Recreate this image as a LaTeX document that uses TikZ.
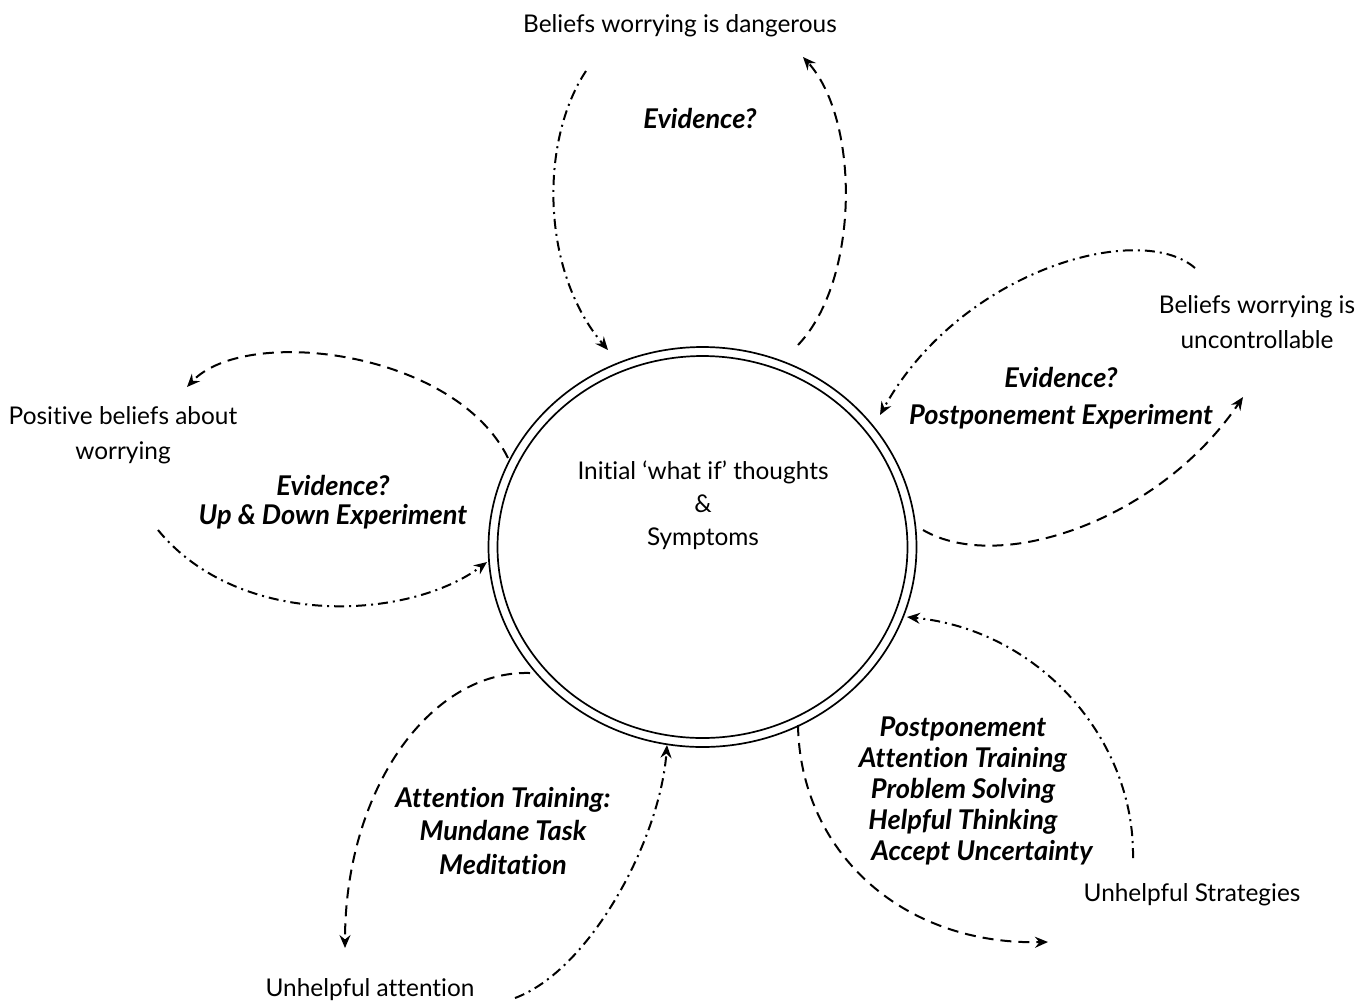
\documentclass[tikz,border=0pt]{standalone}
\usepackage{fontspec}
\setmainfont[Ligatures=NoCommon]{Lato}
\usetikzlibrary{arrows.meta,shapes.geometric}
\begin{document}
\begin{tikzpicture}[x=0.5pt,y=-0.5pt,
  tip/.style={-{Stealth[length=6.5pt,width=5.5pt,inset=2.2pt]}},
  dsh/.style={tip,line width=1pt,dash pattern=on 5.5pt off 3.5pt},
  dd/.style={tip,line width=1pt,dash pattern=on 5pt off 2.5pt on 1pt off 2.5pt},
  lbl/.style={font=\fontsize{12.2}{17.5}\selectfont,align=center,inner sep=0pt},
  tech/.style={font=\fontsize{13.6}{18}\selectfont\bfseries\itshape,align=center,inner sep=0pt},
  ring/.style={draw,ellipse,line width=0.85pt,inner sep=0pt}]
\useasboundingbox (0,0) rectangle (1371,1003);

% central double ellipse
\node[ring,minimum width=214pt,minimum height=200pt] (core) at (702.5,547) {};
\node[ring,minimum width=205pt,minimum height=191pt] (coreinner) at (702.5,547) {};
\node[lbl,font=\fontsize{12.2}{16.5}\selectfont] (coretext) at (703,505) {Initial ‘what if’ thoughts\\\&\\Symptoms};

% outer labels
\node[lbl] (danger) at (680,26) {Beliefs worrying is dangerous};
\node[lbl] (uncontrol) at (1257,322) {Beliefs worrying is\\uncontrollable};
\node[lbl] (positive) at (123,435) {Positive beliefs about\\worrying};
\node[lbl] (attention) at (370,990) {Unhelpful attention};
\node[lbl] (strategies) at (1192,895) {Unhelpful Strategies};

% technique labels
\node[tech] (evtop) at (700,118) {Evidence?};
\node[tech,font=\fontsize{13.6}{18.5}\selectfont\bfseries\itshape] (evright) at (1061,398) {Evidence?\\Postponement Experiment};
\node[tech,font=\fontsize{13.6}{14.5}\selectfont\bfseries\itshape] (evleft) at (333,502) {Evidence?\\Up \& Down Experiment};
\node[tech,font=\fontsize{13.6}{16.75}\selectfont\bfseries\itshape] (attlabel) at (503,831) {Attention Training:\\Mundane Task\\Meditation};
\node[tech,font=\fontsize{13.6}{15.4}\selectfont\bfseries\itshape] (stratlabel) at (963,791) {Postponement\\Attention Training\\Problem Solving\\Helpful Thinking\hspace*{13pt}\\\hspace*{19pt}Accept Uncertainty};

% connector end points
\coordinate (t1s) at (586,71);   \coordinate (t1e) at (608,350);
\coordinate (t2s) at (798,345);  \coordinate (t2e) at (803,57);
\coordinate (r1s) at (1195,268); \coordinate (r1e) at (880,415);
\coordinate (r2s) at (923,530);  \coordinate (r2e) at (1243,397);
\coordinate (l1s) at (508,458);  \coordinate (l1e) at (187,387);
\coordinate (l2s) at (158,530);  \coordinate (l2e) at (487,562);
\coordinate (b1s) at (530,673);  \coordinate (b1e) at (345,948);
\coordinate (b2s) at (515,998);  \coordinate (b2e) at (667,745);
\coordinate (s1s) at (798,725);  \coordinate (s1e) at (1048,942);
\coordinate (s2s) at (1133,858); \coordinate (s2e) at (907,617);

% top: dangerous
\draw[dd]  (t1s) .. controls (540,140) and (540,270) .. (t1e);
\draw[dsh] (t2s) .. controls (860,280) and (860,120) .. (t2e);
% right: uncontrollable
\draw[dd]  (r1s) .. controls (1140,220) and (960,270) .. (r1e);
\draw[dsh] (r2s) .. controls (1000,575) and (1160,520) .. (r2e);
% left: positive beliefs
\draw[dsh] (l1s) .. controls (455,350) and (245,325) .. (l1e);
\draw[dd]  (l2s) .. controls (240,630) and (410,620) .. (l2e);
% bottom left: unhelpful attention
\draw[dsh] (b1s) .. controls (430,670) and (345,790) .. (b1e);
\draw[dd]  (b2s) .. controls (590,970) and (660,840) .. (b2e);
% bottom right: unhelpful strategies
\draw[dsh] (s1s) .. controls (800,850) and (900,945) .. (s1e);
\draw[dd]  (s2s) .. controls (1135,740) and (1040,630) .. (s2e);
\end{tikzpicture}
\end{document}
